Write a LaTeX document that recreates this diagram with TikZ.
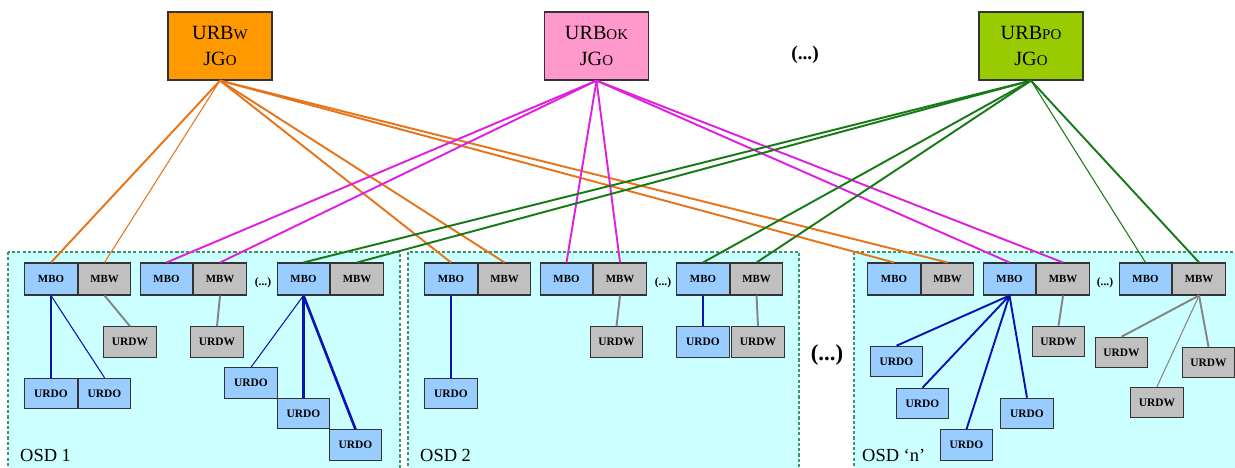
\documentclass[tikz,border=0pt]{standalone}
\usepackage{fontspec}
\setmainfont{Liberation Serif}
\usetikzlibrary{positioning}
\definecolor{osdfill}{HTML}{CCFFFF}
\definecolor{osdline}{HTML}{339966}
\definecolor{boxblue}{HTML}{99CCFF}
\definecolor{boxgray}{HTML}{C0C0C0}
\definecolor{urbw}{HTML}{FF9900}
\definecolor{urbok}{HTML}{FF99CC}
\definecolor{urbpo}{HTML}{99CC00}
\definecolor{linew}{HTML}{E8741A}
\definecolor{lineok}{HTML}{E020E0}
\definecolor{linepo}{HTML}{177A17}
\definecolor{lineo}{HTML}{0A14B4}
\definecolor{lined}{HTML}{858585}
\newcommand{\minicap}[1]{{\fontsize{8.5}{9}\selectfont #1}}
\tikzset{
  urb/.style={draw=black!80, line width=0.7pt, minimum width=2.08cm, minimum height=1.36cm,
    inner sep=0pt, align=center, font=\fontsize{11.5}{15}\selectfont},
  mb/.style={draw=black!80, line width=0.6pt, minimum width=1.05cm, minimum height=0.64cm,
    inner sep=0pt, font=\bfseries\fontsize{6.2}{7}\selectfont},
  mbo/.style={mb, fill=boxblue},
  mbw/.style={mb, fill=boxgray},
  ur/.style={mb, minimum height=0.61cm, font=\bfseries\fontsize{6.5}{7}\selectfont},
  urdo/.style={ur, fill=boxblue},
  urdw/.style={ur, fill=boxgray},
  osd/.style={draw=osdline, fill=osdfill, line width=0.6pt, dash pattern=on 1.8pt off 1.2pt},
  osdlabel/.style={anchor=west, font=\fontsize{10.5}{12}\selectfont},
  dots/.style={font=\bfseries\fontsize{6.5}{7}\selectfont}
}

\begin{document}
\begin{tikzpicture}[x=0.02cm, y=-0.02cm,
    wline/.style={linew, line width=1.1pt},
    okline/.style={lineok, line width=1.1pt},
    poline/.style={linepo, line width=1.1pt},
    oline/.style={lineo, line width=1.1pt},
    dline/.style={lined, line width=1.1pt}]
  \useasboundingbox (0,0) rectangle (1235,467);

  \draw[osd] (8,252) rectangle (400,475);
  \draw[osd] (408,252) rectangle (799,475);
  \draw[osd] (854,252) rectangle (1245,475);
  \node[osdlabel] (osd1) at (14,455) {OSD 1};
  \node[osdlabel] (osd2) at (414,455) {OSD 2};
  \node[osdlabel] (osdn) at (856,455) {OSD ‘n’};

  \node[urb, fill=urbw] (bw) at (220,46) {URB\minicap{W}\\JG\minicap{O}};
  \node[urb, fill=urbok] (bok) at (596.5,46) {URB\minicap{OK}\\JG\minicap{O}};
  \node[urb, fill=urbpo] (bpo) at (1031,46) {URB\minicap{PO}\\JG\minicap{O}};
  \node[font=\bfseries\fontsize{11}{12}\selectfont] (more) at (805,55) {(...)};
  \node[font=\bfseries\fontsize{13}{14}\selectfont] (moreosd) at (827,355) {(...)};

  % OSD 1
  \node[mbo] (o1a) at (51,279) {MBO};
  \node[mbw, right=0pt of o1a] (w1a) {MBW};
  \node[mbo] (o1b) at (166.5,279) {MBO};
  \node[mbw, right=0pt of o1b] (w1b) {MBW};
  \node[dots] (s1) at (263,283) {(...)};
  \node[mbo] (o1c) at (303.5,279) {MBO};
  \node[mbw, right=0pt of o1c] (w1c) {MBW};
  \node[urdw] (d1a) at (130,342) {URDW};
  \node[urdw] (d1b) at (217,342) {URDW};
  \node[urdo] (r1a) at (51,393.5) {URDO};
  \node[urdo, right=0pt of r1a] (r1b) {URDO};
  \node[urdo] (r1c) at (251,383) {URDO};
  \node[urdo] (r1d) at (303.5,413.5) {URDO};
  \node[urdo] (r1e) at (355.5,445) {URDO};

  % OSD 2
  \node[mbo] (o2a) at (451,279) {MBO};
  \node[mbw, right=0pt of o2a] (w2a) {MBW};
  \node[mbo] (o2b) at (566.5,279) {MBO};
  \node[mbw, right=0pt of o2b] (w2b) {MBW};
  \node[dots] (s2) at (663,283) {(...)};
  \node[mbo] (o2c) at (703,279) {MBO};
  \node[mbw, right=0pt of o2c] (w2c) {MBW};
  \node[urdo] (r2a) at (451,393.5) {URDO};
  \node[urdw] (d2a) at (616.5,342) {URDW};
  \node[urdo] (r2b) at (703,342) {URDO};
  \node[urdw] (d2b) at (758,342) {URDW};

  % OSD n
  \node[mbo] (ona) at (894,279) {MBO};
  \node[mbw, right=0pt of ona] (wna) {MBW};
  \node[mbo] (onb) at (1009.5,279) {MBO};
  \node[mbw, right=0pt of onb] (wnb) {MBW};
  \node[dots] (sn) at (1105,283) {(...)};
  \node[mbo] (onc) at (1145.5,279) {MBO};
  \node[mbw, right=0pt of onc] (wnc) {MBW};
  \node[urdw] (dna) at (1058.5,341.5) {URDW};
  \node[urdo] (rna) at (896.5,361.5) {URDO};
  \node[urdo] (rnb) at (922.5,403.5) {URDO};
  \node[urdo] (rnc) at (966.5,445) {URDO};
  \node[urdo] (rnd) at (1027,413.5) {URDO};
  \node[urdw] (dnb) at (1121.5,352.5) {URDW};
  \node[urdw] (dnc) at (1208.5,362.5) {URDW};
  \node[urdw] (dnd) at (1157,402.5) {URDW};

  \draw[wline] (bw.south) -- (o1a.north);
  \draw[wline, line width=0.6pt] (bw.south) -- (w1a.north);
  \draw[wline] (bw.south) -- (o2a.north);
  \draw[wline] (bw.south) -- (w2a.north);
  \draw[wline] (bw.south) -- (ona.north);
  \draw[wline] (bw.south) -- (wna.north);

  \draw[okline] (bok.south) -- (o1b.north);
  \draw[okline] (bok.south) -- (w1b.north);
  \draw[okline] (bok.south) -- (o2b.north);
  \draw[okline] (bok.south) -- (w2b.north);
  \draw[okline] (bok.south) -- (onb.north);
  \draw[okline] (bok.south) -- (wnb.north);

  \draw[poline] (bpo.south) -- (o1c.north);
  \draw[poline] (bpo.south) -- (w1c.north);
  \draw[poline] (bpo.south) -- (o2c.north);
  \draw[poline] (bpo.south) -- (w2c.north);
  \draw[poline, line width=0.6pt] (bpo.south) -- (onc.north);
  \draw[poline] (bpo.south) -- (wnc.north);

  \draw[oline, line width=1.3pt] (o1a.south) -- (r1a.north);
  \draw[oline, line width=0.6pt] (o1a.south) -- (r1b.north);
  \draw[dline] (w1a.south) -- (d1a.north);
  \draw[dline] (w1b.south) -- (d1b.north);
  \draw[oline, line width=0.6pt] (o1c.south) -- (r1c.north);
  \draw[oline, line width=1.3pt] (o1c.south) -- (r1d.north);
  \draw[oline, line width=1.5pt] (o1c.south) -- (r1e.north);

  \draw[oline] (o2a.south) -- (r2a.north);
  \draw[dline] (w2b.south) -- (d2a.north);
  \draw[oline, line width=1.3pt] (o2c.south) -- (r2b.north);
  \draw[dline] (w2c.south) -- (d2b.north);

  \draw[dline] (wnb.south) -- (dna.north);
  \draw[oline] (onb.south) -- (rna.north);
  \draw[oline] (onb.south) -- (rnb.north);
  \draw[oline] (onb.south) -- (rnc.north);
  \draw[oline] (onb.south) -- (rnd.north);
  \draw[dline] (wnc.south) -- (dnb.north);
  \draw[dline] (wnc.south) -- (dnc.north);
  \draw[dline, line width=0.6pt] (wnc.south) -- (dnd.north);
\end{tikzpicture}
\end{document}
